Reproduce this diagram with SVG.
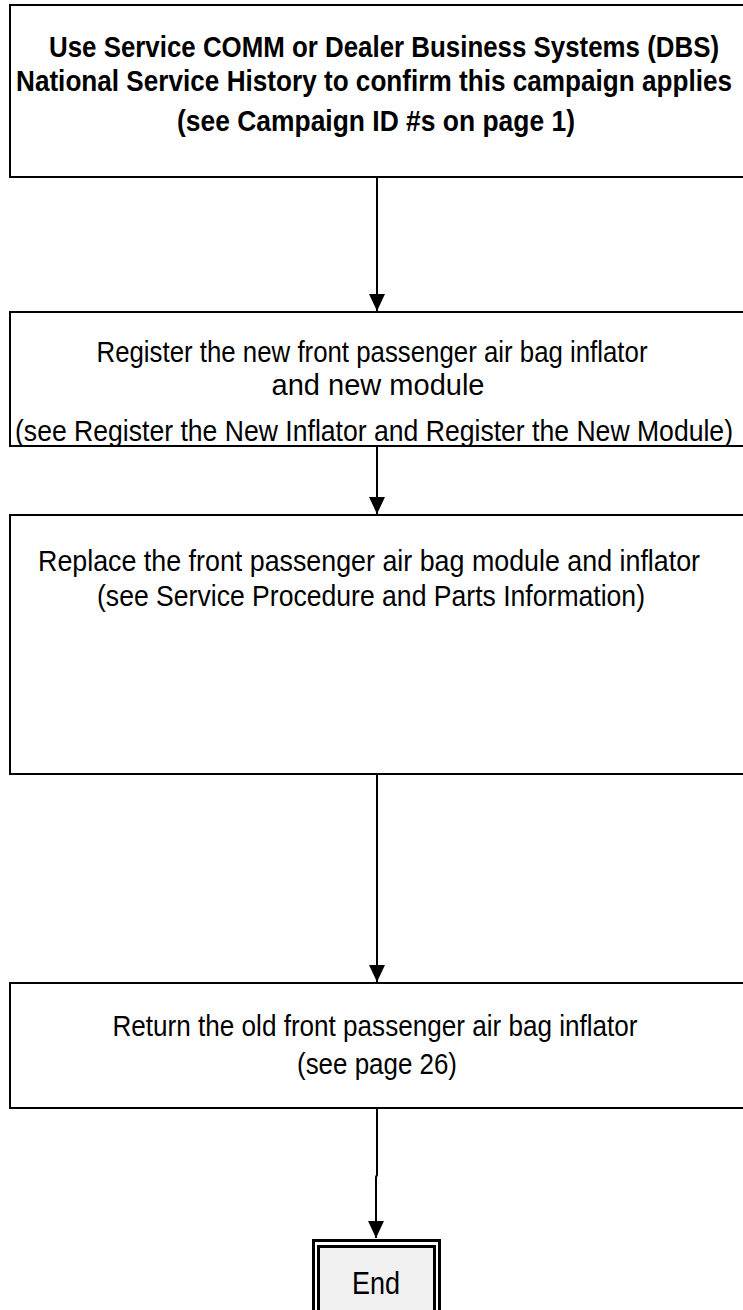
<svg xmlns="http://www.w3.org/2000/svg" width="743" height="1310" viewBox="0 0 743 1310">
<defs>
<style>
.box{fill:#ffffff;stroke:#000000;stroke-width:2}
.t{font-family:"Liberation Sans",Arial,sans-serif;font-size:25.5px;fill:#000000;text-anchor:middle}
.b{font-weight:bold}
.conn{stroke:#000000;stroke-width:2;fill:none}
</style>
<marker id="arr" markerWidth="18" markerHeight="18" refX="17" refY="8" orient="auto" markerUnits="userSpaceOnUse">
<path d="M0,0 L17,8 L0,16 Z" fill="#000000"/>
</marker>
</defs>
<rect width="743" height="1310" fill="#ffffff"/>
<g id="connectors">
<line class="conn" x1="377" y1="177" x2="377" y2="311" marker-end="url(#arr)"/>
<line class="conn" x1="377" y1="446" x2="377" y2="514" marker-end="url(#arr)"/>
<line class="conn" x1="377" y1="774" x2="377" y2="982" marker-end="url(#arr)"/>
<polyline class="conn" points="377,1108 377,1175 376,1177 376,1238" marker-end="url(#arr)"/>
</g>
<g id="node1">
<rect class="box" x="10" y="5" width="760" height="172"/>
<text class="t b" transform="translate(384,57) scale(1,1.137)" textLength="670" lengthAdjust="spacingAndGlyphs">Use Service COMM or Dealer Business Systems (DBS)</text>
<text class="t b" transform="translate(374,91) scale(1,1.137)" textLength="716" lengthAdjust="spacingAndGlyphs">National Service History to confirm this campaign applies</text>
<text class="t b" transform="translate(376,131) scale(1,1.137)" textLength="398" lengthAdjust="spacingAndGlyphs">(see Campaign ID #s on page 1)</text>
</g>
<g id="node2">
<rect class="box" x="10" y="312" width="760" height="134"/>
<text class="t" transform="translate(372,362) scale(1,1.137)" textLength="551" lengthAdjust="spacingAndGlyphs">Register the new front passenger air bag inflator</text>
<text class="t" transform="translate(378,395) scale(1,1.137)" textLength="213" lengthAdjust="spacingAndGlyphs">and new module</text>
<text class="t" transform="translate(374,441) scale(1,1.137)" textLength="718" lengthAdjust="spacingAndGlyphs">(see Register the New Inflator and Register the New Module)</text>
</g>
<g id="node3">
<rect class="box" x="10" y="515" width="760" height="259"/>
<text class="t" transform="translate(369,571) scale(1,1.137)" textLength="662" lengthAdjust="spacingAndGlyphs">Replace the front passenger air bag module and inflator</text>
<text class="t" transform="translate(371,606) scale(1,1.137)" textLength="548" lengthAdjust="spacingAndGlyphs">(see Service Procedure and Parts Information)</text>
</g>
<g id="node4">
<rect class="box" x="10" y="983" width="760" height="125"/>
<text class="t" transform="translate(375,1036) scale(1,1.137)" textLength="525" lengthAdjust="spacingAndGlyphs">Return the old front passenger air bag inflator</text>
<text class="t" transform="translate(377,1074) scale(1,1.137)" textLength="160" lengthAdjust="spacingAndGlyphs">(see page 26)</text>
</g>
<g id="end">
<rect x="313.5" y="1240.5" width="126" height="80" fill="#ffffff" stroke="#000000" stroke-width="3"/>
<rect x="318.5" y="1246.5" width="116" height="80" fill="#f0f0f0" stroke="#000000" stroke-width="3"/>
<text class="t" x="376" y="1294" textLength="48" lengthAdjust="spacingAndGlyphs" style="font-size:31px">End</text>
</g>
</svg>
